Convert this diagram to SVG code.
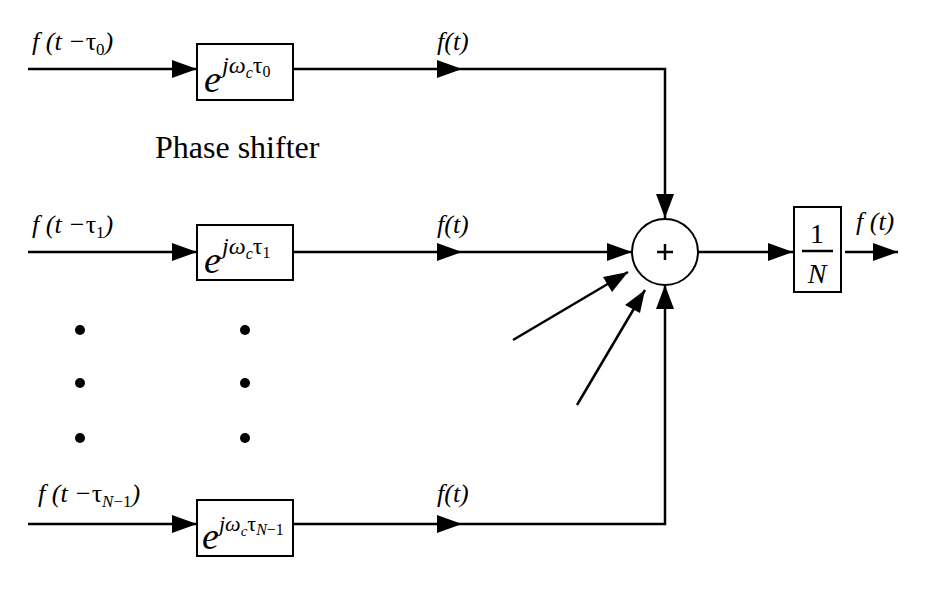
<svg xmlns="http://www.w3.org/2000/svg" width="927" height="589" viewBox="0 0 927 589">
<style>
.l{stroke:#000;stroke-width:2.5;fill:none}
.b{stroke:#000;stroke-width:2;fill:#fff}
.t{font-family:"Liberation Serif",serif;font-style:italic;fill:#000}
.n{font-family:"Liberation Serif",serif;fill:#000}
</style>
<rect width="927" height="589" fill="#fff"/>
<g id="connectors">
<path class="l" d="M28,69H197" /><path d="M172,60L197,69L172,78Z"/>
<path class="l" d="M293,69H665V218"/><path d="M437,60L462,69L437,78Z"/><path d="M656,194L665,218L674,194Z"/>
<path class="l" d="M28,252H197"/><path d="M172,243L197,252L172,261Z"/>
<path class="l" d="M293,252H632"/><path d="M437,243L462,252L437,261Z"/><path d="M607,243L632,252L607,261Z"/>
<path class="l" d="M28,524H197"/><path d="M172,515L197,524L172,533Z"/>
<path class="l" d="M293,524H665V285"/><path d="M437,515L462,524L437,533Z"/><path d="M656,309L665,285L674,309Z"/>
<path class="l" d="M513,340L628,272"/><path d="M628,272L603,277L612,292Z"/>
<path class="l" d="M577,405L645,290"/><path d="M645,290L625,305L640,313Z"/>
<path class="l" d="M698,252H793"/><path d="M768,243L793,252L768,261Z"/>
<path class="l" d="M845,252H898"/><path d="M873,243L898,252L873,261Z"/>
</g>
<g id="sum"><circle class="b" cx="665" cy="252" r="33"/><path class="l" d="M657,252h16M665,244v16" stroke-width="1.5"/></g>
<g id="ps0"><rect class="b" x="197" y="44" width="96" height="56"/><text class="t" x="204" y="92" font-size="38">e</text><text class="t" x="222" y="73" font-size="24">jω<tspan font-size="16" dy="5">c</tspan><tspan font-style="normal" dy="-5">τ</tspan><tspan font-style="normal" font-size="16" dy="4">0</tspan></text></g>
<g id="ps1"><rect class="b" x="197" y="225" width="96" height="55"/><text class="t" x="204" y="273" font-size="38">e</text><text class="t" x="222" y="254" font-size="24">jω<tspan font-size="16" dy="5">c</tspan><tspan font-style="normal" dy="-5">τ</tspan><tspan font-style="normal" font-size="16" dy="4">1</tspan></text></g>
<g id="psN"><rect class="b" x="197" y="500" width="96" height="56"/><text class="t" x="202" y="549" font-size="38">e</text><text class="t" x="219" y="531" font-size="22">jω<tspan font-size="15" dy="5">c</tspan><tspan font-style="normal" dy="-5">τ</tspan><tspan font-size="16" dy="4">N</tspan><tspan font-style="normal" font-size="16">−1</tspan></text></g>
<g id="norm"><rect class="b" x="794" y="207" width="47" height="85"/><text class="n" x="817" y="243" font-size="28" text-anchor="middle">1</text><path class="l" d="M802,251H833" stroke-width="2"/><text class="t" x="817" y="283" font-size="28" text-anchor="middle">N</text></g>
<g id="labels">
<text class="t" x="32" y="50" font-size="26">f (t −<tspan font-style="normal">τ</tspan><tspan font-style="normal" font-size="17" dy="5">0</tspan><tspan dy="-5">)</tspan></text>
<text class="t" x="32" y="233" font-size="26">f (t −<tspan font-style="normal">τ</tspan><tspan font-style="normal" font-size="17" dy="5">1</tspan><tspan dy="-5">)</tspan></text>
<text class="t" x="38" y="502" font-size="26">f (t −<tspan font-style="normal">τ</tspan><tspan font-size="17" dy="5">N</tspan><tspan font-style="normal" font-size="17">−1</tspan><tspan dy="-5">)</tspan></text>
<text class="t" x="437" y="50" font-size="26">f(t)</text>
<text class="t" x="437" y="233" font-size="26">f(t)</text>
<text class="t" x="437" y="502" font-size="26">f(t)</text>
<text class="t" x="856" y="230" font-size="26">f (t)</text>
<text class="n" x="155" y="158" font-size="32">Phase shifter</text>
</g>
<g id="dots" fill="#000"><circle cx="80" cy="330" r="5"/><circle cx="80" cy="383" r="5"/><circle cx="80" cy="438" r="5"/><circle cx="245" cy="330" r="5"/><circle cx="245" cy="383" r="5"/><circle cx="245" cy="438" r="5"/></g>
</svg>
